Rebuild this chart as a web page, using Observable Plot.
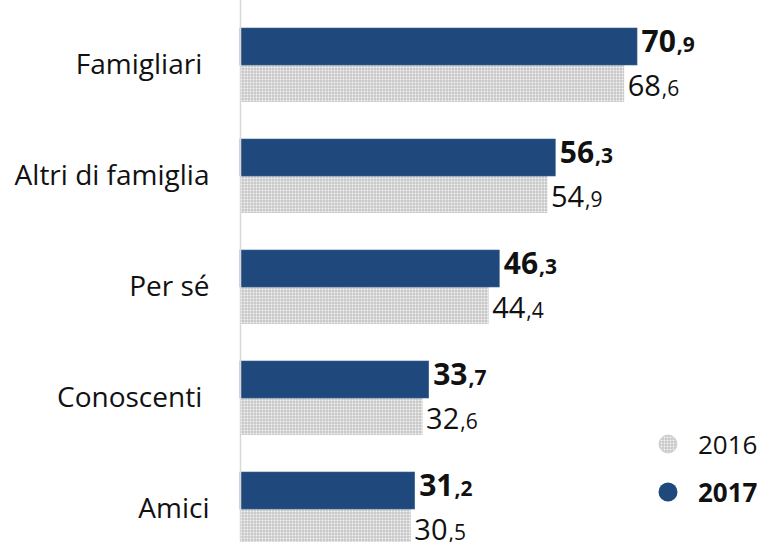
<!DOCTYPE html>
<html>
<head>
<meta charset="utf-8">
<script src="https://cdn.jsdelivr.net/npm/d3@7"></script>
<script src="https://cdn.jsdelivr.net/npm/@observablehq/plot@0.6"></script>
<style>
  html, body { margin: 0; padding: 0; background: #fff; overflow: hidden; }
  #wrap { position: relative; width: 760px; height: 542px; overflow: hidden; font-family: "Open Sans", sans-serif; }
  #wrap svg { font-family: "Open Sans", sans-serif; white-space: pre; }
  #legend { position: absolute; left: 657px; top: 420px; color: #111; font-size: 26px; line-height: 48px; }
  #legend .item { display: flex; align-items: center; height: 48px; }
  #legend svg { margin-right: 19px; }
</style>
</head>
<body>
<div id="wrap"></div>
<script>
// ---- data ----
const categories = ["Famigliari ", "Altri di famiglia", "Per sé", "Conoscenti ", "Amici"];
const values2016 = [68.6, 54.9, 44.4, 32.6, 30.5];
const values2017 = [70.9, 56.3, 46.3, 33.7, 31.2];
const years = ["2016", "2017"];

// ---- build table ----
const rows = categories.flatMap((c, i) => [
  {cat: c, year: "2017", value: values2017[i], key: c + "|2017"},
  {cat: c, year: "2016", value: values2016[i], key: c + "|2016"}
]);
const yDomain = categories.flatMap((c, i) =>
  i < categories.length - 1 ? [c + "|2017", c + "|2016", "gap" + i] : [c + "|2017", c + "|2016"]);
const fmt = v => v.toFixed(1).replace(".", ",");

const navy = "#1F497D";

const chart = Plot.plot({
  width: 760,
  height: 542,
  marginTop: 0,
  marginBottom: 0,
  marginLeft: 0,
  marginRight: 0,
  x: {domain: [0, 92.86], range: [240, 760], axis: null},
  y: {domain: yDomain, range: [28, 546], padding: 0, axis: null},
  marks: [
    Plot.barX(rows.filter(d => d.year === "2016"), {x: "value", y: "key", fill: "#cfcfcf"}),
    Plot.barX(rows.filter(d => d.year === "2017"), {x: "value", y: "key", fill: navy, stroke: "#3d6391", strokeWidth: 0.6}),
    Plot.ruleX([0], {stroke: "#d9d9d9", strokeWidth: 1.5}),
    Plot.text(categories, {
      x: () => 0, y: c => c + "|2017", text: c => c,
      textAnchor: "end", dx: -31, dy: 18.5, fontSize: 28, fill: "#111"
    }),
    Plot.text(rows.filter(d => d.year === "2017"), {
      x: "value", y: "key", text: d => fmt(d.value),
      textAnchor: "start", dx: 4, dy: -4.5, fontSize: 30, fontWeight: "bold", fill: "#111"
    }),
    Plot.text(rows.filter(d => d.year === "2016"), {
      x: "value", y: "key", text: d => fmt(d.value),
      textAnchor: "start", dx: 3, dy: 2.5, fontSize: 29, fill: "#111"
    })
  ]
});

const ns = "http://www.w3.org/2000/svg";
// pattern for 2016 bars
const defs = document.createElementNS(ns, "defs");
defs.innerHTML = '<pattern id="dots" width="3" height="3" patternUnits="userSpaceOnUse">' +
  '<rect width="3" height="3" fill="#bdbdbd"/><rect x="0.5" y="0.5" width="2" height="2" fill="#f6f6f6"/></pattern>';
chart.insertBefore(defs, chart.firstChild);

const barGroups = chart.querySelectorAll('g[aria-label="bar"]');
if (barGroups.length) {
  barGroups[0].setAttribute("fill", "url(#dots)");
  barGroups[0].querySelectorAll("rect").forEach(r => r.setAttribute("fill", "url(#dots)"));
}

// smaller decimal part for value labels (2nd and 3rd text marks)
const textGroups = chart.querySelectorAll('g[aria-label="text"]');
[1, 2].forEach(k => {
  const g = textGroups[k];
  if (!g) return;
  g.querySelectorAll("text").forEach(t => {
    const s = t.textContent;
    const [a, b] = s.split(",");
    t.textContent = "";
    const t1 = document.createElementNS(ns, "tspan");
    t1.textContent = a;
    const t2 = document.createElementNS(ns, "tspan");
    t2.textContent = "," + b;
    t2.setAttribute("font-size", "21");
    t2.setAttribute("dx", "1");
    t.appendChild(t1);
    t.appendChild(t2);
  });
});

const wrap = document.getElementById("wrap");
wrap.appendChild(chart);

// legend
const legend = document.createElement("div");
legend.id = "legend";
legend.innerHTML = years.map(y => {
  const isNew = y === "2017";
  const circle = isNew
    ? `<circle cx="11" cy="11" r="9.5" fill="${navy}"/>`
    : `<defs><pattern id="ldots" width="3" height="3" patternUnits="userSpaceOnUse"><rect width="3" height="3" fill="#bdbdbd"/><rect x="0.5" y="0.5" width="2" height="2" fill="#f6f6f6"/></pattern></defs><circle cx="11" cy="11" r="9" fill="url(#ldots)" stroke="#cfcfcf" stroke-width="1"/>`;
  return `<div class="item"><svg width="22" height="22">${circle}</svg><span style="font-weight:${isNew ? "bold" : "normal"}">${y}</span></div>`;
}).join("");
wrap.appendChild(legend);
</script>
</body>
</html>
